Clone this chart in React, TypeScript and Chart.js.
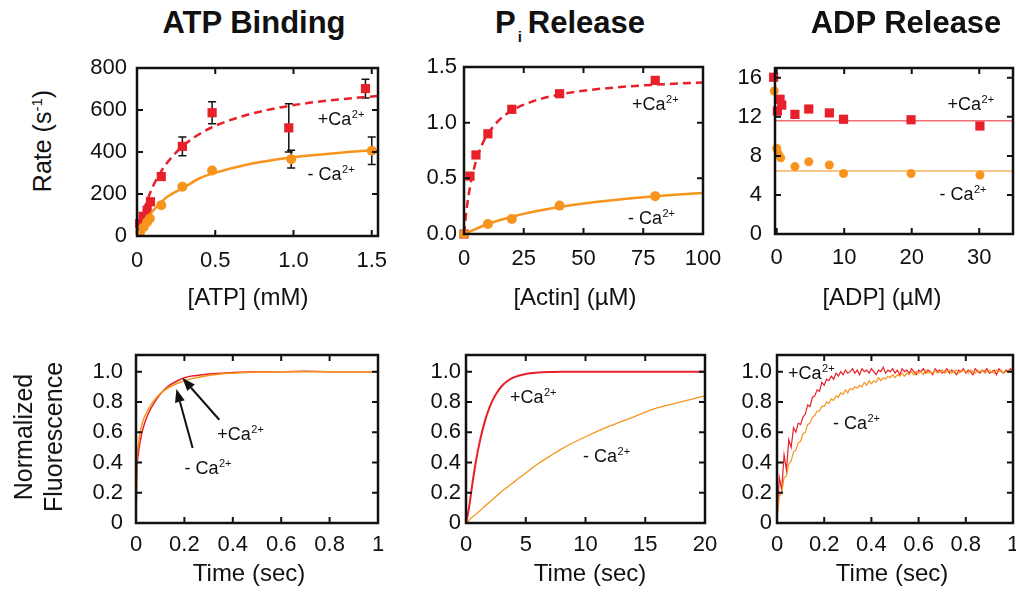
import React, { useEffect, useRef } from "react";
import { Chart, registerables } from "chart.js";
Chart.register(...registerables);

const RED = "#e8202a";
const ORANGE = "#f7941d";
const INK = "#111111";
const FONT = '"Liberation Sans", Arial, Helvetica, sans-serif';

// ---------- ATP binding (top left) ----------
const atpXPlus = [0.017, 0.039, 0.065, 0.086, 0.155, 0.29, 0.48, 0.97, 1.46];
const atpYPlus = [59, 94, 123, 163, 283, 427, 587, 515, 702];
const atpErrPlus = [0, 0, 0, 0, 0, 45, 52, 115, 45];
const atpXMinus = [0.02, 0.043, 0.065, 0.082, 0.155, 0.29, 0.48, 0.985, 1.5];
const atpYMinus = [19, 43, 67, 83, 147, 235, 312, 366, 406];
const atpErrMinus = [0, 0, 0, 0, 0, 0, 0, 42, 66];
const atpFitX = [0, 0.02, 0.05, 0.1, 0.15, 0.2, 0.3, 0.4, 0.5, 0.7, 0.9, 1.1, 1.3, 1.54];
const atpFitPlus = [0, 60, 137, 233, 302, 356, 433, 486, 525, 576, 610, 634, 651, 667];
const atpFitMinus = [0, 29, 67, 118, 158, 190, 231, 275, 301, 339, 365, 383, 397, 410];
const atpXTicks = [0, 0.5, 1.0, 1.5];
const atpXLabels = ["0", "0.5", "1.0", "1.5"];
const atpYTicks = [0, 200, 400, 600, 800];
const atpYLabels = ["0", "200", "400", "600", "800"];

// ---------- Pi release (top middle) ----------
const piXPlus = [0, 2.5, 5, 10, 20, 40, 80];
const piYPlus = [0, 0.52, 0.71, 0.9, 1.12, 1.26, 1.38];
const piXMinus = [0, 10, 20, 40, 80];
const piYMinus = [0, 0.09, 0.135, 0.255, 0.34];
const piFitX = [0, 1, 2.5, 5, 7.5, 10, 15, 20, 30, 40, 50, 60, 70, 80, 90, 100];
const piFitPlus = [0, 0.205, 0.42, 0.654, 0.8, 0.9, 1.029, 1.108, 1.2, 1.253, 1.287, 1.31, 1.328, 1.341, 1.352, 1.36];
const piFitMinusX = [0, 10, 20, 30, 40, 50, 60, 70, 80, 90, 100];
const piFitMinus = [0, 0.09, 0.155, 0.204, 0.243, 0.274, 0.299, 0.321, 0.339, 0.354, 0.368];
const piXTicks = [0, 25, 50, 75, 100];
const piXLabels = ["0", "25", "50", "75", "100"];
const piYTicks = [0, 0.5, 1.0, 1.5];
const piYLabels = ["0.0", "0.5", "1.0", "1.5"];

// ---------- ADP release (top right) ----------
const adpXPlus = [-0.45, 0.1, 0.5, 0.75, 2.7, 4.75, 7.8, 9.9, 19.9, 30.1];
const adpYPlus = [16.05, 12.6, 13.8, 13.2, 12.25, 12.8, 12.4, 11.75, 11.7, 11.06];
const adpXMinus = [-0.35, 0, 0.25, 0.6, 2.7, 4.75, 7.8, 9.9, 19.9, 30.1];
const adpYMinus = [14.65, 8.78, 8.2, 7.8, 6.9, 7.4, 7.07, 6.2, 6.2, 6.04];
const adpFitX = [-0.3, 35];
const adpFitPlus = [11.6, 11.6];
const adpFitMinus = [6.45, 6.45];
const adpXTicks = [0, 10, 20, 30];
const adpXLabels = ["0", "10", "20", "30"];
const adpYTicks = [0, 4, 8, 12, 16];
const adpYLabels = ["0", "4", "8", "12", "16"];

// ---------- ATP binding transients (bottom left) ----------
const blTime = [0, 0.003, 0.01, 0.02, 0.03, 0.05, 0.07, 0.1, 0.13, 0.16, 0.2, 0.25, 0.3, 0.35, 0.4, 0.5, 0.6, 0.7, 0.8, 0.9, 1.0];
const blPlus = [0, 0.3, 0.46, 0.56, 0.63, 0.72, 0.78, 0.85, 0.9, 0.93, 0.96, 0.975, 0.985, 0.99, 0.995, 1.0, 1.0, 1.002, 1.0, 1.0, 1.0];
const blMinus = [0, 0.35, 0.52, 0.62, 0.68, 0.75, 0.8, 0.855, 0.89, 0.915, 0.94, 0.96, 0.975, 0.985, 0.99, 0.997, 1.0, 1.0, 1.0, 1.0, 1.0];

// ---------- Pi transients (bottom middle) ----------
const bmTime = [0, 0.25, 0.5, 0.75, 1, 1.5, 2, 2.5, 3, 3.5, 4, 5, 6, 7, 8, 10, 12, 14, 16, 18, 20];
const bmPlus = [0, 0.1, 0.24, 0.37, 0.48, 0.65, 0.77, 0.85, 0.905, 0.94, 0.962, 0.985, 0.994, 0.998, 1, 1, 1, 1, 1, 1, 1];
const bmMinus = [0, 0.018, 0.036, 0.053, 0.07, 0.105, 0.14, 0.175, 0.21, 0.24, 0.27, 0.33, 0.39, 0.44, 0.49, 0.57, 0.64, 0.7, 0.76, 0.8, 0.84];

// ---------- ADP transients (bottom right) ----------
const brTime = [
  0, 0.01, 0.02, 0.03, 0.04, 0.05, 0.06, 0.07, 0.08, 0.09, 0.1, 0.11, 0.12, 0.13, 0.14, 0.15, 0.16, 0.17, 0.18, 0.19,
  0.2, 0.21, 0.22, 0.23, 0.24, 0.25, 0.26, 0.27, 0.28, 0.29, 0.3, 0.31, 0.32, 0.33, 0.34, 0.35, 0.36, 0.37, 0.38, 0.39,
  0.4, 0.41, 0.42, 0.43, 0.44, 0.45, 0.46, 0.47, 0.48, 0.49, 0.5, 0.51, 0.52, 0.53, 0.54, 0.55, 0.56, 0.57, 0.58, 0.59,
  0.6, 0.61, 0.62, 0.63, 0.64, 0.65, 0.66, 0.67, 0.68, 0.69, 0.7, 0.71, 0.72, 0.73, 0.74, 0.75, 0.76, 0.77, 0.78, 0.79,
  0.8, 0.81, 0.82, 0.83, 0.84, 0.85, 0.86, 0.87, 0.88, 0.89, 0.9, 0.91, 0.92, 0.93, 0.94, 0.95, 0.96, 0.97, 0.98, 0.99, 1.0,
];
const brPlus = [
  0.03, 0.3, 0.22, 0.45, 0.35, 0.55, 0.5, 0.63, 0.6, 0.66, 0.65, 0.7, 0.72, 0.78, 0.77, 0.83, 0.84, 0.88, 0.87, 0.93,
  0.91, 0.95, 0.94, 0.97, 0.95, 0.99, 0.97, 1.0, 0.98, 1.01, 0.99, 1.0, 1.02, 0.99, 1.01, 0.98, 1.02, 1.0, 1.01, 0.99,
  1.02, 1.0, 0.98, 1.01, 1.0, 1.03, 0.99, 1.01, 1.0, 1.02, 0.99, 1.01, 0.98, 1.02, 1.0, 1.01, 0.99, 1.02, 1.0, 0.98,
  1.01, 1.0, 1.02, 0.99, 1.01, 1.0, 0.98, 1.02, 1.0, 1.01, 0.99, 1.0, 1.02, 0.99, 1.01, 1.0, 0.98, 1.01, 1.0, 1.02,
  0.99, 1.01, 1.0, 0.98, 1.02, 1.0, 0.99, 1.01, 1.0, 1.02, 0.99, 1.0, 1.01, 0.98, 1.02, 1.0, 0.99, 1.01, 1.0, 1.02, 1.0,
];
const brMinus = [
  0.02, 0.18, 0.2, 0.3, 0.31, 0.39, 0.41, 0.47, 0.48, 0.53, 0.54, 0.59, 0.6, 0.65, 0.66, 0.7, 0.71, 0.74, 0.74, 0.77,
  0.77, 0.8, 0.79, 0.82, 0.81, 0.84, 0.83, 0.86, 0.85, 0.88, 0.86, 0.89, 0.88, 0.9, 0.89, 0.91, 0.9, 0.93, 0.91, 0.94,
  0.92, 0.94, 0.93, 0.96, 0.94, 0.96, 0.95, 0.97, 0.96, 0.98, 0.96, 0.98, 0.97, 0.99, 0.97, 0.99, 0.98, 1.0, 0.98, 1.0,
  0.99, 1.0, 0.98, 1.01, 0.99, 1.0, 0.99, 1.01, 0.99, 1.0, 1.01, 0.99, 1.0, 1.01, 0.99, 1.0, 1.01, 0.99, 1.0, 1.01,
  1.0, 0.99, 1.01, 1.0, 0.99, 1.01, 1.0, 1.01, 0.99, 1.0, 1.01, 1.0, 0.99, 1.01, 1.0, 1.01, 0.99, 1.0, 1.01, 1.0, 1.0,
];

const timeTicks1 = [0, 0.2, 0.4, 0.6, 0.8, 1.0];
const timeLabels1 = ["0", "0.2", "0.4", "0.6", "0.8", "1"];
const timeTicks20 = [0, 5, 10, 15, 20];
const timeLabels20 = ["0", "5", "10", "15", "20"];
const fluorTicks = [0, 0.2, 0.4, 0.6, 0.8, 1.0];
const fluorLabels = ["0", "0.2", "0.4", "0.6", "0.8", "1.0"];

// ---------- layout ----------
type Box = { left: number; top: number; right: number; bottom: number };
const PAD_L = 80, PAD_T = 15, PAD_R = 30, PAD_B = 50;
const BOX_TL: Box = { left: 137, top: 68, right: 378, bottom: 236 };
const BOX_TM: Box = { left: 464, top: 67, right: 703, bottom: 234 };
const BOX_TR: Box = { left: 775, top: 68, right: 1013, bottom: 234 };
const BOX_BL: Box = { left: 136, top: 355, right: 378, bottom: 523 };
const BOX_BM: Box = { left: 466, top: 355, right: 705, bottom: 523 };
const BOX_BR: Box = { left: 777, top: 355, right: 1013, bottom: 523 };

const pts = (xs: number[], ys: number[]) => xs.map((x, i) => ({ x, y: ys[i] }));

function axis(min: number, max: number, vals: number[], labels: string[], pad: number, isX: boolean) {
  return {
    type: "linear",
    min,
    max,
    grid: { display: false, drawTicks: false },
    border: { display: false },
    afterBuildTicks: (s: any) => {
      s.ticks = vals.map((v) => ({ value: v }));
    },
    ticks: {
      autoSkip: false,
      maxRotation: 0,
      includeBounds: false,
      padding: pad,
      color: INK,
      font: { family: FONT, size: 22 },
      callback: (_v: any, i: number) => labels[i],
    },
    afterFit: (s: any) => {
      if (isX) {
        s.height = PAD_B;
        s.paddingLeft = 0;
        s.paddingRight = 0;
      } else {
        s.width = PAD_L;
        s.paddingTop = 0;
        s.paddingBottom = 0;
      }
    },
  };
}

const frameTicks = {
  id: "frameTicks",
  afterDatasetsDraw(chart: any) {
    const { ctx, chartArea: a, scales } = chart;
    const L = 6;
    ctx.save();
    ctx.strokeStyle = INK;
    ctx.lineWidth = 2;
    ctx.beginPath();
    for (const t of scales.x.ticks) {
      const p = scales.x.getPixelForValue(t.value);
      ctx.moveTo(p, a.bottom);
      ctx.lineTo(p, a.bottom - L);
      ctx.moveTo(p, a.top);
      ctx.lineTo(p, a.top + L);
    }
    for (const t of scales.y.ticks) {
      const p = scales.y.getPixelForValue(t.value);
      ctx.moveTo(a.left, p);
      ctx.lineTo(a.left + L, p);
      ctx.moveTo(a.right, p);
      ctx.lineTo(a.right - L, p);
    }
    ctx.stroke();
    ctx.lineWidth = 2.5;
    ctx.strokeRect(a.left, a.top, a.right - a.left, a.bottom - a.top);
    ctx.restore();
  },
};

const errorBars = {
  id: "errorBars",
  beforeDatasetsDraw(chart: any) {
    const { ctx, scales } = chart;
    ctx.save();
    ctx.strokeStyle = INK;
    ctx.lineWidth = 1.5;
    chart.data.datasets.forEach((ds: any) => {
      if (!ds.errorBars) return;
      ds.data.forEach((d: any, i: number) => {
        const e = ds.errorBars[i];
        if (!e) return;
        const x = scales.x.getPixelForValue(d.x);
        const y1 = scales.y.getPixelForValue(d.y + e);
        const y2 = scales.y.getPixelForValue(d.y - e);
        ctx.beginPath();
        ctx.moveTo(x, y1);
        ctx.lineTo(x, y2);
        ctx.moveTo(x - 4, y1);
        ctx.lineTo(x + 4, y1);
        ctx.moveTo(x - 4, y2);
        ctx.lineTo(x + 4, y2);
        ctx.stroke();
      });
    });
    ctx.restore();
  },
};

type Lab = { x: number; y: number; text: string; sup: string };
type Arrow = { x1: number; y1: number; x2: number; y2: number };

function makeAnnot(labels: Lab[], arrows: Arrow[]) {
  return {
    id: "annot",
    afterDraw(chart: any) {
      const { ctx, scales } = chart;
      ctx.save();
      ctx.fillStyle = INK;
      ctx.strokeStyle = INK;
      ctx.textBaseline = "alphabetic";
      ctx.textAlign = "left";
      for (const l of labels) {
        const x = scales.x.getPixelForValue(l.x);
        const y = scales.y.getPixelForValue(l.y);
        ctx.font = `18px ${FONT}`;
        ctx.fillText(l.text, x, y);
        const w = ctx.measureText(l.text).width;
        ctx.font = `11px ${FONT}`;
        ctx.fillText(l.sup, x + w + 0.5, y - 7);
      }
      for (const a of arrows) {
        const x1 = scales.x.getPixelForValue(a.x1);
        const y1 = scales.y.getPixelForValue(a.y1);
        const x2 = scales.x.getPixelForValue(a.x2);
        const y2 = scales.y.getPixelForValue(a.y2);
        const ang = Math.atan2(y2 - y1, x2 - x1);
        const hl = 13, hw = 5;
        const bx = x2 - hl * Math.cos(ang), by = y2 - hl * Math.sin(ang);
        ctx.lineWidth = 2;
        ctx.beginPath();
        ctx.moveTo(x1, y1);
        ctx.lineTo(bx, by);
        ctx.stroke();
        ctx.beginPath();
        ctx.moveTo(x2, y2);
        ctx.lineTo(bx + hw * Math.sin(ang), by - hw * Math.cos(ang));
        ctx.lineTo(bx - hw * Math.sin(ang), by + hw * Math.cos(ang));
        ctx.closePath();
        ctx.fill();
      }
      ctx.restore();
    },
  };
}

const squares = (data: any[], extra: any = {}) => ({
  data,
  pointStyle: "rect",
  pointRadius: 6.5,
  backgroundColor: RED,
  borderColor: RED,
  borderWidth: 0,
  showLine: false,
  clip: false,
  ...extra,
});
const circles = (data: any[], extra: any = {}) => ({
  data,
  pointStyle: "circle",
  pointRadius: 5,
  backgroundColor: ORANGE,
  borderColor: ORANGE,
  borderWidth: 0,
  showLine: false,
  clip: false,
  ...extra,
});
const line = (data: any[], color: string, width: number, extra: any = {}) => ({
  data,
  showLine: true,
  pointRadius: 0,
  borderColor: color,
  backgroundColor: color,
  borderWidth: width,
  fill: false,
  cubicInterpolationMode: "monotone",
  ...extra,
});

function baseConfig(datasets: any[], x: any, y: any, annot: any) {
  return {
    type: "scatter",
    data: { datasets },
    options: {
      animation: false,
      responsive: false,
      maintainAspectRatio: false,
      events: [],
      layout: { padding: { left: 0, top: PAD_T, right: PAD_R, bottom: 0 } },
      plugins: { legend: { display: false }, tooltip: { enabled: false }, title: { display: false } },
      scales: { x, y },
    },
    plugins: [errorBars, frameTicks, annot],
  };
}

const builders: Record<string, () => any> = {
  tl: () =>
    baseConfig(
      [
        line(pts(atpFitX, atpFitMinus), ORANGE, 2.5),
        line(pts(atpFitX, atpFitPlus), RED, 2.5, { borderDash: [8, 5] }),
        circles(pts(atpXMinus, atpYMinus), { errorBars: atpErrMinus }),
        squares(pts(atpXPlus, atpYPlus), { errorBars: atpErrPlus }),
      ],
      axis(0, 1.54, atpXTicks, atpXLabels, 12, true),
      axis(0, 800, atpYTicks, atpYLabels, 10, false),
      makeAnnot(
        [
          { x: 1.155, y: 528, text: "+Ca", sup: "2+" },
          { x: 1.09, y: 267, text: "- Ca", sup: "2+" },
        ],
        []
      )
    ),
  tm: () =>
    baseConfig(
      [
        line(pts(piFitMinusX, piFitMinus), ORANGE, 2.5),
        line(pts(piFitX, piFitPlus), RED, 2.5, { borderDash: [8, 5] }),
        circles(pts(piXMinus, piYMinus)),
        squares(pts(piXPlus, piYPlus)),
      ],
      axis(0, 100, piXTicks, piXLabels, 12, true),
      axis(0, 1.5, piYTicks, piYLabels, 7, false),
      makeAnnot(
        [
          { x: 70.3, y: 1.114, text: "+Ca", sup: "2+" },
          { x: 68.6, y: 0.09, text: "- Ca", sup: "2+" },
        ],
        []
      )
    ),
  tr: () =>
    baseConfig(
      [
        line(pts(adpFitX, adpFitMinus), "rgba(247,148,29,0.7)", 1.5),
        line(pts(adpFitX, adpFitPlus), "rgba(232,32,42,0.65)", 1.5),
        circles(pts(adpXMinus, adpYMinus), { pointRadius: 4.5 }),
        squares(pts(adpXPlus, adpYPlus)),
      ],
      axis(-0.25, 35, adpXTicks, adpXLabels, 11, true),
      axis(0, 17, adpYTicks, adpYLabels, 13, false),
      makeAnnot(
        [
          { x: 25.3, y: 12.7, text: "+Ca", sup: "2+" },
          { x: 24.1, y: 3.48, text: "- Ca", sup: "2+" },
        ],
        []
      )
    ),
  bl: () =>
    baseConfig(
      [
        line(pts(blTime, blMinus), ORANGE, 1.5),
        line(pts(blTime, blPlus), RED, 1.5),
      ],
      axis(0, 1, timeTicks1, timeLabels1, 9, true),
      axis(0, 1.11, fluorTicks, fluorLabels, 13, false),
      makeAnnot(
        [
          { x: 0.336, y: 0.55, text: "+Ca", sup: "2+" },
          { x: 0.2, y: 0.325, text: "- Ca", sup: "2+" },
        ],
        [
          { x1: 0.344, y1: 0.682, x2: 0.192, y2: 0.958 },
          { x1: 0.234, y1: 0.495, x2: 0.167, y2: 0.885 },
        ]
      )
    ),
  bm: () =>
    baseConfig(
      [
        line(pts(bmTime, bmMinus), ORANGE, 1.3),
        line(pts(bmTime, bmPlus), RED, 2),
      ],
      axis(0, 20, timeTicks20, timeLabels20, 9, true),
      axis(0, 1.11, fluorTicks, fluorLabels, 5, false),
      makeAnnot(
        [
          { x: 3.68, y: 0.79, text: "+Ca", sup: "2+" },
          { x: 9.8, y: 0.4, text: "- Ca", sup: "2+" },
        ],
        []
      )
    ),
  br: () =>
    baseConfig(
      [
        line(pts(brTime, brMinus), ORANGE, 1.2, { cubicInterpolationMode: "default", tension: 0 }),
        line(pts(brTime, brPlus), RED, 1.2, { cubicInterpolationMode: "default", tension: 0 }),
      ],
      axis(0, 1, timeTicks1, timeLabels1, 9, true),
      axis(0, 1.11, fluorTicks, fluorLabels, 5, false),
      makeAnnot(
        [
          { x: 0.047, y: 0.95, text: "+Ca", sup: "2+" },
          { x: 0.237, y: 0.62, text: "- Ca", sup: "2+" },
        ],
        []
      )
    ),
};

function Panel({ box, build }: { box: Box; build: () => any }) {
  const ref = useRef<HTMLCanvasElement>(null);
  useEffect(() => {
    const chart = new Chart(ref.current as HTMLCanvasElement, build());
    return () => chart.destroy();
  }, []);
  const w = box.right - box.left + PAD_L + PAD_R;
  const h = box.bottom - box.top + PAD_T + PAD_B;
  return (
    <canvas
      ref={ref}
      width={w}
      height={h}
      style={{ position: "absolute", left: box.left - PAD_L, top: box.top - PAD_T, width: w, height: h }}
    />
  );
}

const textBase: React.CSSProperties = {
  position: "absolute",
  fontFamily: FONT,
  color: INK,
  lineHeight: 1,
  whiteSpace: "nowrap",
};

function Title({ cx, baseline, children }: { cx: number; baseline: number; children: any }) {
  const fs = 31;
  return (
    <div style={{ ...textBase, fontSize: fs, fontWeight: "bold", left: cx, top: baseline - 0.8465 * fs, transform: "translateX(-50%)" }}>
      {children}
    </div>
  );
}

function XTitle({ cx, cy, children }: { cx: number; cy: number; children: any }) {
  return (
    <div style={{ ...textBase, fontSize: 24, left: cx, top: cy, transform: "translate(-50%,-50%)" }}>{children}</div>
  );
}

export default function App() {
  return (
    <div style={{ position: "absolute", left: 0, top: 0, width: 1016, height: 597, background: "#fff", overflow: "hidden" }}>
      <Panel box={BOX_TL} build={builders.tl} />
      <Panel box={BOX_TM} build={builders.tm} />
      <Panel box={BOX_TR} build={builders.tr} />
      <Panel box={BOX_BL} build={builders.bl} />
      <Panel box={BOX_BM} build={builders.bm} />
      <Panel box={BOX_BR} build={builders.br} />

      <Title cx={254} baseline={33}>ATP Binding</Title>
      <Title cx={570} baseline={33}>
        P<span style={{ fontSize: 15, position: "relative", top: 9, marginLeft: 2, marginRight: 6 }}>i</span>Release
      </Title>
      <Title cx={906} baseline={33}>ADP Release</Title>

      <div style={{ ...textBase, fontSize: 25, left: 42, top: 141, transform: "translate(-50%,-50%) rotate(-90deg)" }}>
        Rate (s<span style={{ fontSize: 15, position: "relative", top: -9 }}>-1</span>)
      </div>
      <div
        style={{
          ...textBase,
          fontSize: 25,
          lineHeight: "30px",
          textAlign: "center",
          left: 38,
          top: 437,
          transform: "translate(-50%,-50%) rotate(-90deg)",
        }}
      >
        Normalized
        <br />
        Fluorescence
      </div>

      <XTitle cx={248} cy={297}>[ATP] (mM)</XTitle>
      <XTitle cx={575} cy={297}>[Actin] (µM)</XTitle>
      <XTitle cx={882} cy={297}>[ADP] (µM)</XTitle>
      <XTitle cx={249} cy={573}>Time (sec)</XTitle>
      <XTitle cx={590} cy={573}>Time (sec)</XTitle>
      <XTitle cx={892} cy={573}>Time (sec)</XTitle>
    </div>
  );
}
